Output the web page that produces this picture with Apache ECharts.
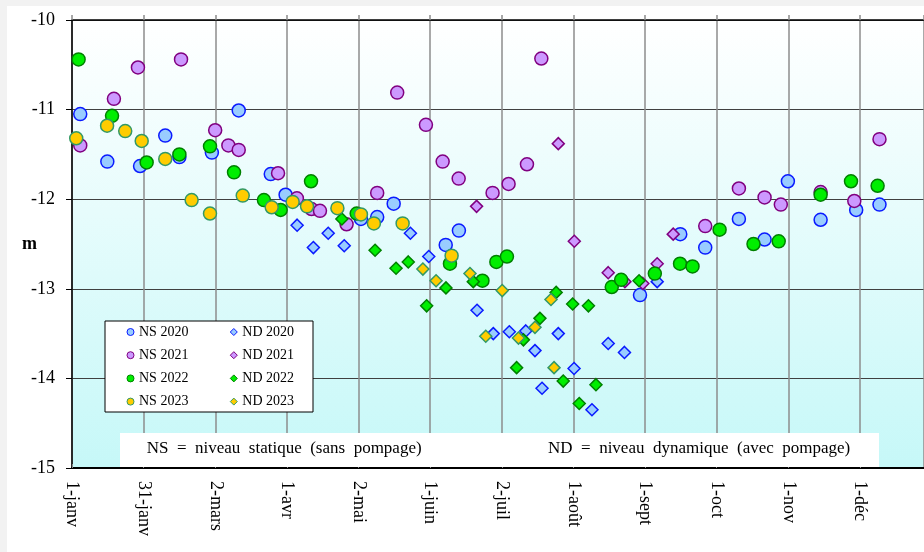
<!DOCTYPE html>
<html>
<head>
<meta charset="utf-8">
<script src="https://cdn.jsdelivr.net/npm/echarts@6/dist/echarts.min.js"></script>
<style>
  html, body { margin: 0; padding: 0; background: #f2f2f2; width: 924px; height: 552px; overflow: hidden; }
  #chart { position: absolute; left: 7px; top: 6px; width: 917px; height: 546px; background: #ffffff; }
</style>
</head>
<body>
<div id="chart"></div>
<script>
// x = day of year (0 = 1 janv), y = level in m
const monthLabels = ['1-janv','31-janv','2-mars','1-avr','2-mai','1-juin','2-juil','1-août','1-sept','1-oct','1-nov','1-déc'];
const yTicks = [-15, -14, -13, -12, -11, -10];

const ns2020 = [[3.5,-11.05],[15.0,-11.58],[28.9,-11.63],[39.6,-11.29],[45.6,-11.53],[59.4,-11.48],[70.8,-11.01],[84.4,-11.72],[90.7,-11.95],[122.7,-12.22],[129.6,-12.20],[136.6,-12.05],[158.7,-12.51],[164.3,-12.35],[241.2,-13.07],[258.3,-12.39],[268.9,-12.54],[283.2,-12.22],[294.1,-12.45],[304.0,-11.80],[317.9,-12.23],[333.0,-12.12],[342.9,-12.06]];
const nd2020 = [[95.6,-12.29],[102.5,-12.54],[108.8,-12.38],[115.6,-12.52],[143.7,-12.38],[151.5,-12.64],[172.0,-13.24],[178.9,-13.50],[185.7,-13.48],[192.7,-13.47],[196.6,-13.69],[199.6,-14.11],[206.5,-13.50],[213.2,-13.89],[220.8,-14.35],[227.7,-13.61],[234.6,-13.71],[248.5,-12.92]];
const ns2021 = [[3.5,-11.40],[17.8,-10.88],[28.0,-10.53],[46.3,-10.44],[60.8,-11.23],[66.4,-11.40],[70.8,-11.45],[87.5,-11.71],[95.5,-11.99],[101.7,-12.11],[105.3,-12.13],[116.6,-12.28],[129.6,-11.93],[138.1,-10.81],[150.3,-11.17],[157.4,-11.58],[164.2,-11.77],[178.6,-11.93],[185.4,-11.83],[193.2,-11.61],[199.3,-10.43],[268.9,-12.30],[283.2,-11.88],[294.1,-11.98],[301.0,-12.06],[317.9,-11.92],[332.2,-12.02],[342.9,-11.33]];
const nd2021 = [[171.8,-12.08],[206.5,-11.38],[213.3,-12.47],[227.7,-12.82],[234.8,-12.92],[242.4,-12.94],[248.5,-12.72],[255.3,-12.39]];
const ns2022 = [[2.8,-10.44],[17.0,-11.07],[31.7,-11.59],[45.6,-11.50],[58.6,-11.41],[68.8,-11.70],[81.5,-12.01],[88.6,-12.12],[101.5,-11.80],[120.9,-12.16],[160.5,-12.72],[174.3,-12.91],[180.2,-12.70],[184.7,-12.64],[229.2,-12.98],[233.2,-12.90],[247.5,-12.83],[258.2,-12.72],[263.5,-12.75],[275.0,-12.34],[289.4,-12.50],[300.1,-12.47],[317.9,-11.95],[330.8,-11.80],[342.1,-11.85]];
const nd2022 = [[114.6,-12.22],[128.7,-12.57],[137.6,-12.77],[142.8,-12.70],[150.6,-13.19],[158.8,-12.99],[170.4,-12.92],[188.8,-13.88],[191.7,-13.57],[198.7,-13.33],[205.6,-13.04],[208.6,-14.03],[212.6,-13.17],[215.4,-14.28],[219.3,-13.19],[222.5,-14.07],[240.8,-12.91]];
const ns2023 = [[1.8,-11.32],[14.9,-11.18],[22.6,-11.24],[29.6,-11.35],[39.6,-11.55],[50.8,-12.01],[58.6,-12.16],[72.5,-11.96],[84.8,-12.09],[93.7,-12.03],[99.8,-12.08],[112.7,-12.10],[122.7,-12.17],[128.2,-12.27],[140.4,-12.27],[161.2,-12.63]];
const nd2023 = [[149.0,-12.78],[154.6,-12.91],[169.0,-12.83],[175.7,-13.53],[182.7,-13.02],[189.6,-13.55],[196.6,-13.43],[203.4,-13.12],[204.7,-13.88]];

const seriesDefs = [
  { name: 'NS 2020', data: ns2020, symbol: 'circle',  fill: '#99ccff', stroke: '#0a1aff' },
  { name: 'ND 2020', data: nd2020, symbol: 'diamond', fill: '#99ccff', stroke: '#0a1aff' },
  { name: 'NS 2021', data: ns2021, symbol: 'circle',  fill: '#cc99ff', stroke: '#800080' },
  { name: 'ND 2021', data: nd2021, symbol: 'diamond', fill: '#cc99ff', stroke: '#800080' },
  { name: 'NS 2022', data: ns2022, symbol: 'circle',  fill: '#00ee00', stroke: '#008000' },
  { name: 'ND 2022', data: nd2022, symbol: 'diamond', fill: '#00ee00', stroke: '#008000' },
  { name: 'NS 2023', data: ns2023, symbol: 'circle',  fill: '#ffcc00', stroke: '#339966' },
  { name: 'ND 2023', data: nd2023, symbol: 'diamond', fill: '#ffcc00', stroke: '#339966' }
];

const step = 365 / 12;
const FONT = 'Liberation Serif';

function monthFormatter(v) {
  const i = Math.round(v / step);
  if (Math.abs(v - i * step) < 0.05 && i >= 0 && i < monthLabels.length) return monthLabels[i];
  return '';
}

const chart = echarts.init(document.getElementById('chart'), null, { renderer: 'canvas' });

const legendCommon = {
  orient: 'vertical',
  top: 318,
  itemGap: 7.2,
  itemWidth: 7,
  itemHeight: 7,
  padding: 0,
  selectedMode: false,
  textStyle: { fontFamily: FONT, fontSize: 14, color: '#000', lineHeight: 16 },
  itemStyle: { borderWidth: 1 }
};

chart.setOption({
  animation: false,
  backgroundColor: '#ffffff',
  grid: {
    left: 65, top: 14, right: 0, bottom: 84,
    outerBoundsMode: 'none',
    containLabel: false,
    show: true,
    borderWidth: 0,
    backgroundColor: {
      type: 'linear', x: 0, y: 0, x2: 0, y2: 1,
      colorStops: [{ offset: 0, color: '#ffffff' }, { offset: 1, color: '#c6f8f8' }]
    }
  },
  legend: [
    Object.assign({}, legendCommon, { left: 119.5, data: ['NS 2020', 'NS 2021', 'NS 2022', 'NS 2023'] }),
    Object.assign({}, legendCommon, { left: 222.8, data: ['ND 2020', 'ND 2021', 'ND 2022', 'ND 2023'] })
  ],
  xAxis: [
    {
      type: 'value', position: 'bottom', min: 0, max: 361.8, interval: step,
      axisLine: { show: true, onZero: false, lineStyle: { color: '#000', width: 2 } },
      axisTick: { show: true, inside: true, length: 4, lineStyle: { color: '#888', width: 1 } },
      axisLabel: { show: true, rotate: -90, margin: 13, formatter: monthFormatter, showMaxLabel: false,
                   fontFamily: FONT, fontSize: 18, color: '#000' },
      splitLine: { show: true, lineStyle: { color: '#8c8c8c', width: 1.5 } }
    },
    {
      type: 'value', position: 'top', min: 0, max: 361.8, interval: step,
      axisLine: { show: true, onZero: false, lineStyle: { color: '#000', width: 1.5 } },
      axisTick: { show: true, inside: false, length: 5, lineStyle: { color: '#8c8c8c', width: 1.5 } },
      axisLabel: { show: false },
      splitLine: { show: false }
    }
  ],
  yAxis: {
    type: 'value', min: yTicks[0], max: yTicks[yTicks.length - 1], interval: 1,
    name: 'm', nameLocation: 'middle', nameGap: 35, nameRotate: 0, nameMoveOverlap: false,
    nameTextStyle: { fontFamily: FONT, fontSize: 18, fontWeight: 'bold', color: '#000' },
    axisLine: { show: true, onZero: false, lineStyle: { color: '#000', width: 1.5 } },
    axisTick: { show: true, inside: false, length: 6, lineStyle: { color: '#000', width: 1 } },
    axisLabel: { margin: 17, fontFamily: FONT, fontSize: 18, color: '#000' },
    splitLine: { show: true, lineStyle: { color: '#404040', width: 1 } }
  },
  graphic: [
    { type: 'rect', z: 3, shape: { x: 98, y: 315, width: 208, height: 91 },
      style: { fill: '#ffffff', stroke: '#000', lineWidth: 1 } },
    { type: 'rect', z: 3, shape: { x: 113, y: 427, width: 759, height: 34 },
      style: { fill: '#ffffff', stroke: null } },
    { type: 'text', z: 4, x: 139.7, y: 443,
      style: { text: 'NS  =  niveau  statique  (sans  pompage)', font: '17px "Liberation Serif"', fill: '#000', textVerticalAlign: 'middle', verticalAlign: 'middle' } },
    { type: 'text', z: 4, x: 541, y: 443,
      style: { text: 'ND  =  niveau  dynamique  (avec  pompage)', font: '17px "Liberation Serif"', fill: '#000', textVerticalAlign: 'middle', verticalAlign: 'middle' } }
  ],
  series: seriesDefs.map(s => ({
    type: 'scatter',
    name: s.name,
    data: s.data,
    symbol: s.symbol,
    symbolSize: s.symbol === 'circle' ? 13 : 12,
    itemStyle: { color: s.fill, borderColor: s.stroke, borderWidth: 1.5, opacity: 1 },
    emphasis: { disabled: true }
  }))
});
</script>
</body>
</html>
